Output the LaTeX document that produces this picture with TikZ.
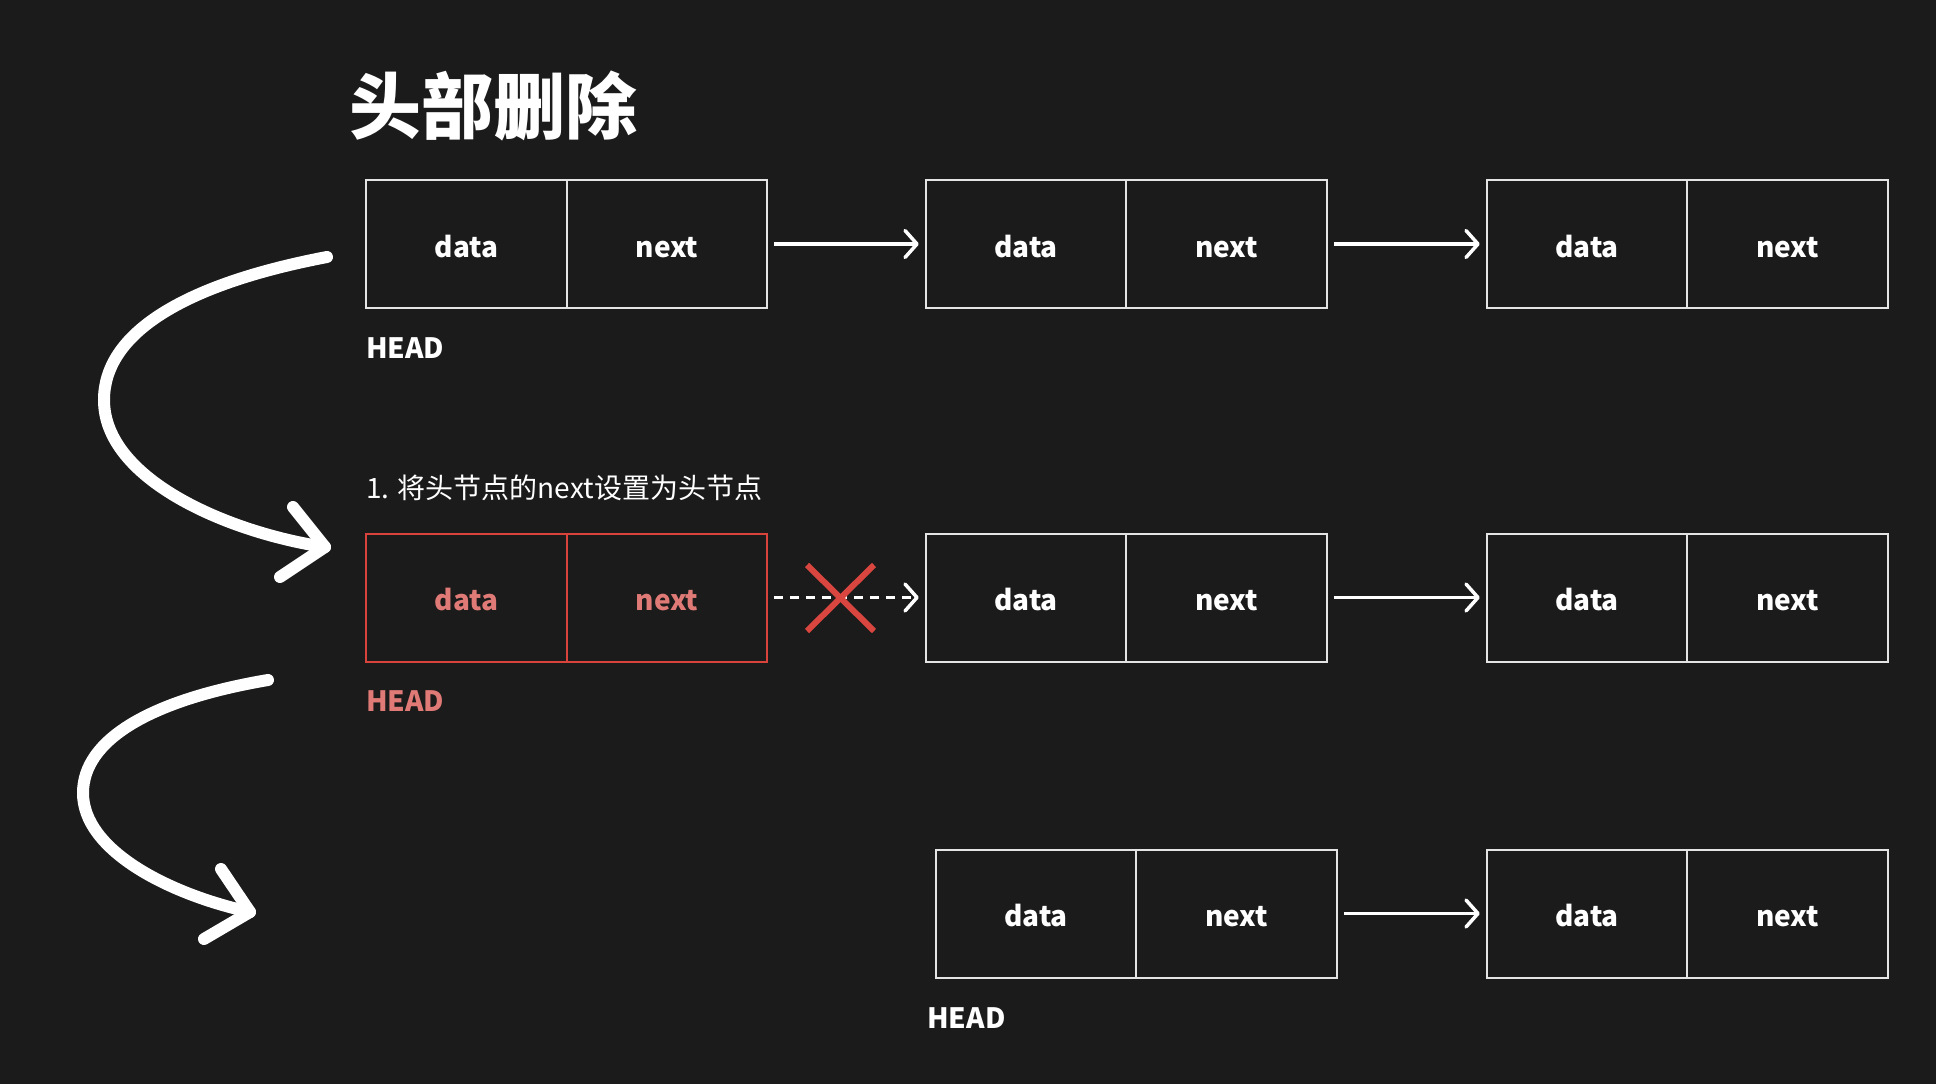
\documentclass[tikz,border=0pt]{standalone}
\usepackage{fontspec}
\setmainfont{Noto Sans CJK SC}
\usetikzlibrary{arrows.meta}
\definecolor{bg}{HTML}{1B1B1B}
\definecolor{boxline}{HTML}{E4E4E4}
\definecolor{redline}{HTML}{D8433C}
\definecolor{redtext}{HTML}{E07A76}
\definecolor{crossred}{HTML}{D9463F}
\begin{document}
\begin{tikzpicture}[x=1pt,y=-1pt,
  cell/.style={draw=boxline, line width=2pt, minimum width=200.5pt, minimum height=128pt,
    inner sep=0pt, text=white, font=\fontsize{28}{32}\selectfont\bfseries,
    text height=26pt, text depth=0pt},
  redcell/.style={cell, draw=redline, text=redtext},
  headlbl/.style={anchor=base west, inner sep=0pt, text=white, font=\fontsize{28}{32}\selectfont\bfseries},
  arr/.style={draw=white, line width=3.5pt, -{Straight Barb[length=12pt,width=27pt,line width=3.5pt,round]},
    shorten <=6pt, shorten >=6pt},
  dasharr/.style={arr, dash pattern=on 9pt off 7pt},
  bigcurve/.style={draw=white, line width=12pt, line cap=round, line join=round},
  crossline/.style={draw=crossred, line width=6pt}
]
\useasboundingbox (0,0) rectangle (1936,1084);
\fill[bg] (0,0) rectangle (1936,1084);

% title
\node[anchor=base west, inner sep=0pt, text=white, font=\fontsize{72}{80}\selectfont\bfseries]
  (title) at (349,133) {头部删除};

% row 1
\node[cell] (r1a) at (466.5,244) {data};
\node[cell] (r1b) at (667,244) {next};
\node[cell] (r1c) at (1026,244) {data};
\node[cell] (r1d) at (1226.5,244) {next};
\node[cell] (r1e) at (1587,244) {data};
\node[cell] (r1f) at (1787.5,244) {next};
\node[headlbl] (h1) at (366,358) {HEAD};
\draw[arr] (r1b.east) -- (r1c.west);
\draw[arr] (r1d.east) -- (r1e.west);

% instruction
\node[anchor=base west, inner sep=0pt, text=white, font=\fontsize{28}{32}\selectfont]
  (step1) at (366,498) {1. 将头节点的next设置为头节点};

% row 2
\node[redcell] (r2a) at (466.5,597.5) {data};
\node[redcell] (r2b) at (667,597.5) {next};
\node[cell] (r2c) at (1026,597.5) {data};
\node[cell] (r2d) at (1226.5,597.5) {next};
\node[cell] (r2e) at (1587,597.5) {data};
\node[cell] (r2f) at (1787.5,597.5) {next};
\node[headlbl, text=redtext] (h2) at (366,711) {HEAD};
\draw[dasharr] (r2b.east) -- (r2c.west);
\draw[arr] (r2d.east) -- (r2e.west);
\coordinate (X) at (840,598);
\draw[crossline] ([shift={(-33,-33)}]X) -- ([shift={(34,33)}]X);
\draw[crossline] ([shift={(-33,33)}]X) -- ([shift={(34,-33)}]X);

% row 3
\node[cell] (r3a) at (1036,913.5) {data};
\node[cell] (r3b) at (1236.5,913.5) {next};
\node[cell] (r3c) at (1587,913.5) {data};
\node[cell] (r3d) at (1787.5,913.5) {next};
\node[headlbl] (h3) at (927,1028) {HEAD};
\draw[arr] (r3b.east) -- (r3c.west);

% curved arrows
\coordinate (c1s) at (327,257);
\coordinate (c1m) at (104,400);
\coordinate (c1e) at (325,547);
\draw[bigcurve] (c1s) .. controls (180,285) and (104,335) .. (c1m)
  .. controls (104,480) and (230,533) .. (c1e);
\draw[bigcurve] (293,507) -- (c1e) -- (280,577);

\coordinate (c2s) at (268,680);
\coordinate (c2m) at (83,793);
\coordinate (c2e) at (250,912);
\draw[bigcurve] (c2s) .. controls (150,700) and (83,740) .. (c2m)
  .. controls (83,850) and (168,894) .. (c2e);
\draw[bigcurve] (221,869) -- (c2e) -- (204,939);
\end{tikzpicture}
\end{document}
